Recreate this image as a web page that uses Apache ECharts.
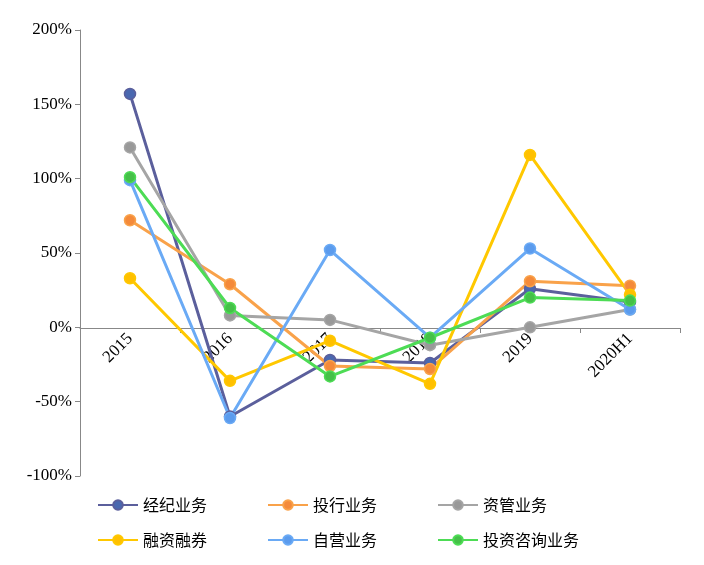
<!DOCTYPE html>
<html><head><meta charset="utf-8">
<script src="https://cdn.jsdelivr.net/npm/echarts@6/dist/echarts.min.js"></script>
<style>body{margin:0}#c{width:704px;height:565px}</style></head>
<body><div id="c"></div>
<script>
const categories = ['2015', '2016', '2017', '2018', '2019', '2020H1'];
const brokerage = [157, -60, -22, -24, 26, 17];
const investBank = [72, 29, -26, -28, 31, 28];
const assetMgmt = [121, 8, 5, -12, 0, 12];
const marginFin = [33, -36, -9, -38, 116, 22];
const proprietary = [99, -61, 52, -7, 53, 12];
const advisory = [101, 13, -33, -7, 20, 18];

const seriesDefs = [
  ['经纪业务', brokerage, '#5b5f9c', '#4a68b0'],
  ['投行业务', investBank, '#f9a24a', '#f48a3a'],
  ['资管业务', assetMgmt, '#a5a5a5', '#999999'],
  ['融资融券', marginFin, '#ffc800', '#ffc000'],
  ['自营业务', proprietary, '#6aaaf5', '#5b9bed'],
  ['投资咨询业务', advisory, '#4ddc55', '#45c048']
];

const chart = echarts.init(document.getElementById('c'));
const legendBase = {
  itemWidth: 40, itemHeight: 12, itemGap: 60,
  textStyle: { fontFamily: 'Noto Sans CJK SC', fontSize: 16, color: '#000' }
};
chart.setOption({
  animation: false,
  grid: { left: 80, right: 24, top: 30, bottom: 89 },
  legend: [
    Object.assign({ left: 92, top: 492, data: seriesDefs.slice(0, 3).map(d => d[0]) }, legendBase),
    Object.assign({ left: 92, top: 527, data: seriesDefs.slice(3).map(d => d[0]) }, legendBase)
  ],
  xAxis: {
    type: 'category', data: categories,
    offset: -148,
    axisLine: { onZero: false, lineStyle: { color: '#888' } },
    axisTick: { show: true, alignWithLabel: false, lineStyle: { color: '#888' } },
    axisLabel: { rotate: 45, color: '#000', fontFamily: 'Liberation Serif', fontSize: 17, margin: 8 }
  },
  yAxis: {
    type: 'value', min: -100, max: 200, interval: 50,
    splitLine: { show: false },
    axisLine: { show: true, lineStyle: { color: '#888' } },
    axisTick: { show: true, lineStyle: { color: '#888' } },
    axisLabel: { formatter: '{value}%', color: '#000', fontFamily: 'Liberation Serif', fontSize: 17 }
  },
  series: seriesDefs.map(([name, data, line, dot]) => ({
    name, type: 'line', data,
    symbol: 'circle', symbolSize: 11,
    lineStyle: { width: 3, color: line },
    itemStyle: { color: dot, borderColor: line, borderWidth: 1.5 }
  }))
});
</script></body></html>
